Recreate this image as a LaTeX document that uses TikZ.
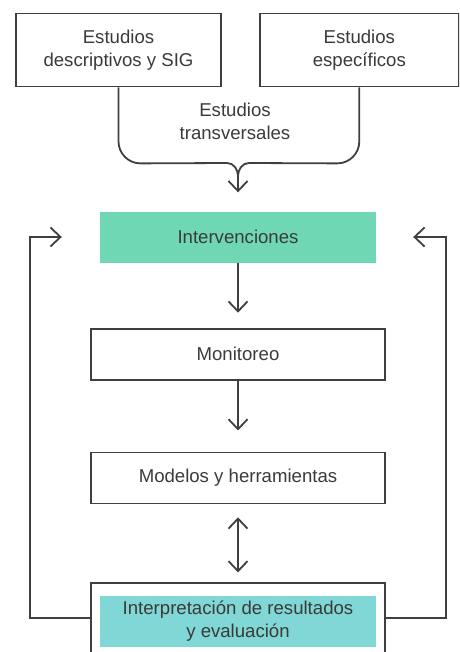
\documentclass[tikz,border=0pt]{standalone}
\usepackage{fontspec}
\setmainfont{Liberation Sans}
\usepackage{tikz}
\usetikzlibrary{arrows.meta, positioning, fit, calc}
\definecolor{inkgray}{HTML}{3F3F3F}
\definecolor{textgray}{HTML}{3A3A3A}
\definecolor{intgreen}{HTML}{6FD7B4}
\definecolor{evalteal}{HTML}{80D7D5}
\tikzstyle{block} = [rectangle, draw=inkgray, line width=1.8pt, minimum width=294pt, minimum height=51pt, align=center, text=textgray]
\tikzstyle{fillblock} = [rectangle, minimum width=276pt, minimum height=51pt, align=center, text=textgray]
\tikzstyle{line} = [draw=inkgray, line width=1.8pt]
\tikzstyle{arrow} = [line, ->, >={Straight Barb[length=10pt,width=19pt]}]

\begin{document}
\begin{tikzpicture}[x=1pt, y=1pt, every node/.style={font=\fontsize{18.6}{23}\selectfont}]
  \useasboundingbox (0,0) rectangle (459,-652);
  \clip (0,0) rectangle (459,-652);
  % Studies
  \node[block, minimum width=205pt, minimum height=73pt] (desc) at (118.5,-50) {Estudios\\descriptivos y SIG};
  \node[block, minimum width=199pt, minimum height=73pt, right=37pt of desc] (spec) {Estudios\\específicos};
  \node[align=center, text=textgray] (trans) at (235,-121) {Estudios\\transversales};
  % Cycle
  \node[fillblock, fill=intgreen] (interv) at (238,-237) {Intervenciones};
  \node[block, below=65pt of interv] (monit) {Monitoreo};
  \node[block, below=71pt of monit] (model) {Modelos y herramientas};
  \node[fillblock, fill=evalteal, below=91pt of model] (interp) {Interpretación de resultados\\y evaluación};
  \node[line, fit=(interp), inner xsep=9pt, inner ysep=12pt] (frame) {};

  % Brace
  \coordinate (brace) at (238,-176);
  \draw[line] (desc.south) -- ++(0,-54) arc[start angle=180, end angle=270, radius=22] -- (227,-163) to[out=0, in=90] (brace);
  \draw[line] (spec.south) -- ++(0,-54) arc[start angle=0, end angle=-90, radius=22] -- (249,-163) to[out=180, in=90] (brace);

  \draw[arrow, shorten >=19pt] (brace) -- (interv);
  \draw[arrow, shorten >=15pt] (interv) -- (monit);
  \draw[arrow, shorten >=21pt] (monit) -- (model);
  \draw[arrow, <->, shorten <=13pt, shorten >=10pt] (model) -- (frame);
  % Feedback loops
  \draw[arrow, shorten >=38pt] ([yshift=3pt]frame.west) -| ([xshift=-70pt]interv.west) -- (interv.west);
  \draw[arrow, shorten >=37pt] ([yshift=3pt]frame.east) -| ([xshift=70pt]interv.east) -- (interv.east);
\end{tikzpicture}
\end{document}
